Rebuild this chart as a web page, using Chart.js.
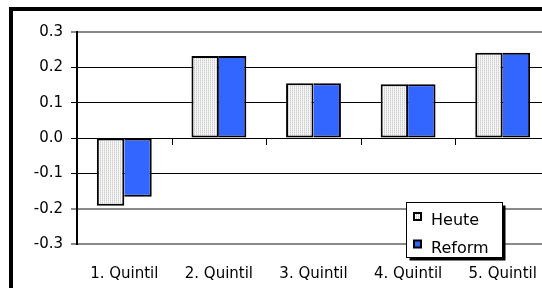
<!DOCTYPE html>
<html><head><meta charset="utf-8">
<script src="https://cdn.jsdelivr.net/npm/chart.js@4.4.1/dist/chart.umd.min.js"></script>
<style>
html,body{margin:0;padding:0;overflow:hidden;background:#fff;width:542px;height:288px}
#wrap{position:absolute;left:0;top:0;width:560px;height:288px}
</style>
</head><body><div id="wrap"><canvas id="c" width="560" height="288"></canvas></div>
<script>
const categories = ['1. Quintil', '2. Quintil', '3. Quintil', '4. Quintil', '5. Quintil'];
const seriesNames = ['Heute', 'Reform'];
const heute  = [-0.192, 0.232, 0.155, 0.152, 0.241];
const reform = [-0.166, 0.232, 0.155, 0.152, 0.241];
const yMin = -0.3, yMax = 0.3, yStep = 0.1;

Chart.defaults.font.family = '"DejaVu Sans", Verdana, sans-serif';
Chart.defaults.font.size = 15;
Chart.defaults.color = '#000';

// dotted light-grey fill for "Heute"
function makePattern() {
  const p = document.createElement('canvas');
  p.width = 2; p.height = 2;
  const g = p.getContext('2d');
  g.fillStyle = '#f6f6f6'; g.fillRect(0, 0, 2, 2);
  g.fillStyle = '#cdcdcd'; g.fillRect(0, 0, 1, 1);
  g.fillStyle = '#e2e2e2'; g.fillRect(0, 1, 1, 1);
  return document.getElementById('c').getContext('2d').createPattern(p, 'repeat');
}
const heuteFill = makePattern();
const reformFill = '#3366ff';

const isGrey = v => [0.3, -0.2, -0.3].some(t => Math.abs(v - t) < 1e-6);

const framePlugin = {
  id: 'frame',
  beforeDraw(chart) {
    const ctx = chart.ctx;
    ctx.save(); ctx.fillStyle = '#fff'; ctx.fillRect(0, 0, chart.width, chart.height); ctx.restore();
  },
  afterDraw(chart) {
    const ctx = chart.ctx;
    ctx.save(); ctx.strokeStyle = '#000'; ctx.lineWidth = 4;
    ctx.strokeRect(11, 9, 700, 400); ctx.restore();
  }
};

const catTicks = {
  id: 'catTicks',
  afterDatasetsDraw(chart) {
    const xs = chart.scales.x, ys = chart.scales.y;
    const y0 = Math.round(ys.getPixelForValue(0));
    const ctx = chart.ctx;
    const n = xs.ticks.length;
    const step = xs.getPixelForTick(1) - xs.getPixelForTick(0);
    ctx.save(); ctx.strokeStyle = '#000'; ctx.lineWidth = 1;
    for (let i = 1; i <= n; i++) {
      const px = Math.round(xs.getPixelForTick(0) - step / 2 + i * step) + 0.5;
      ctx.beginPath(); ctx.moveTo(px, y0); ctx.lineTo(px, y0 + 7); ctx.stroke();
    }
    ctx.restore();
  }
};

const boxLegend = {
  id: 'boxLegend',
  afterDraw(chart) {
    const ctx = chart.ctx;
    ctx.save();
    const x = 406.5, y = 202.5, w = 96, h = 55;
    ctx.fillStyle = '#000'; ctx.fillRect(x + 3, y + 3, w, h);
    ctx.fillStyle = '#fff'; ctx.fillRect(x, y, w, h);
    ctx.strokeStyle = '#000'; ctx.lineWidth = 1; ctx.strokeRect(x, y, w, h);
    ctx.font = '16px "DejaVu Sans"'; ctx.textBaseline = 'alphabetic';
    chart.data.datasets.forEach((ds, i) => {
      const sy = 213 + i * 27.5;
      ctx.fillStyle = ds.backgroundColor; ctx.fillRect(414, sy, 7, 7);
      ctx.lineWidth = 2; ctx.strokeStyle = '#000'; ctx.strokeRect(414, sy, 7, 7);
      ctx.fillStyle = '#000';
      ctx.fillText(ds.label, 431, 225 + i * 28);
    });
    ctx.restore();
  }
};

new Chart(document.getElementById('c'), {
  type: 'bar',
  data: {
    labels: categories,
    datasets: [
      { label: seriesNames[0], data: heute, backgroundColor: heuteFill, borderColor: '#000', borderWidth: 2, borderSkipped: false },
      { label: seriesNames[1], data: reform, backgroundColor: reformFill, borderColor: '#000', borderWidth: 2, borderSkipped: 'left' }
    ]
  },
  options: {
    responsive: false,
    animation: false,
    devicePixelRatio: 1,
    layout: { padding: { top: 32, left: 0, right: 10, bottom: 0 } },
    datasets: { bar: { categoryPercentage: 0.58, barPercentage: 1.0 } },
    plugins: { legend: { display: false }, tooltip: { enabled: false } },
    scales: {
      x: {
        grid: { display: false, drawTicks: false },
        border: { display: false },
        ticks: { padding: 21, color: '#000', font: { size: 15 }, maxRotation: 0 },
        afterFit(s) { s.height = 44; }
      },
      y: {
        min: yMin, max: yMax,
        ticks: {
          stepSize: yStep, padding: 8, color: '#000', font: { size: 15 },
          callback: v => (Math.abs(v) < 1e-9 ? 0 : v).toFixed(1)
        },
        grid: {
          drawTicks: true, tickLength: 6,
          color: c => isGrey(c.tick.value) ? '#8a8a8a' : '#000',
          lineWidth: c => isGrey(c.tick.value) ? 2 : 1
        },
        border: { display: true, color: '#000', width: 2 },
        afterFit(s) { s.width = 77; }
      }
    }
  },
  plugins: [framePlugin, catTicks, boxLegend]
});
</script>
</body></html>
